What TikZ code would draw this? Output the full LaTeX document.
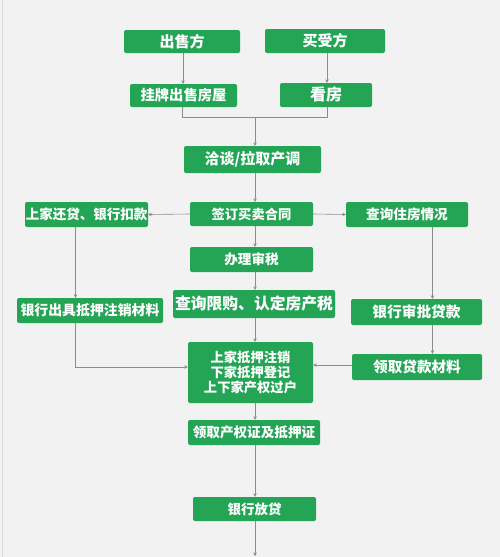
\documentclass[tikz,border=0pt]{standalone}
\usepackage{fontspec}
\newfontfamily\cjk{Noto Sans CJK SC}
\usetikzlibrary{arrows.meta}
\definecolor{boxgreen}{HTML}{24A556}
\definecolor{bg}{HTML}{F2F2F2}
\definecolor{linegray}{HTML}{8C8C8C}
\tikzset{
  box/.style={draw=none, fill=boxgreen, rounded corners=2pt, text=white,
    font=\cjk\bfseries\fontsize{13.5}{15}\selectfont, inner sep=0pt, align=center},
  fsz/.style={font=\cjk\bfseries\fontsize{#1}{15}\selectfont},
  conn/.style={draw=linegray, line width=0.6pt},
  arr/.style={conn, -{Stealth[length=3.5pt,width=3.5pt]}},
}
\begin{document}
\begin{tikzpicture}[x=1pt,y=-1pt]
\fill[bg] (0,0) rectangle (500,557);
\useasboundingbox (0,0) rectangle (500,557);
\draw[draw=black!15, line width=1pt] (2.5,0) -- (2.5,557);

\node[box, fsz=15, minimum width=116, minimum height=23] (A) at (182,41.5) {出售方};
\node[box, fsz=15, minimum width=120, minimum height=24] (B) at (325,41) {买受方};
\node[box, fsz=14.3, minimum width=107, minimum height=23] (C) at (183.5,95.5) {挂牌出售房屋};
\node[box, fsz=16, minimum width=92, minimum height=24] (D) at (326,95) {看房};
\node[box, fsz=15, minimum width=137, minimum height=27] (E) at (252.5,159.5) {洽谈/拉取产调};
\node[box, fsz=13.3, minimum width=123, minimum height=24] (F) at (251.5,214) {签订买卖合同};
\node[box, fsz=13.5, minimum width=123, minimum height=25] (G) at (86.5,214.5) {上家还贷、银行扣款};
\node[box, fsz=13.6, minimum width=122, minimum height=25] (H) at (407,214.5) {查询住房情况};
\node[box, fsz=13.6, minimum width=123, minimum height=25] (I) at (251.5,259.5) {办理审税};
\node[box, fsz=13.9, minimum width=146, minimum height=25] (J) at (90,310.5) {银行出具抵押注销材料};
\node[box, fsz=15.8, minimum width=162, minimum height=28] (K) at (254,304) {查询限购、认定房产税};
\node[box, fsz=14.7, minimum width=131, minimum height=26] (L) at (416.5,312) {银行审批贷款};
\node[box, fsz=13.3, minimum width=125, minimum height=61] (M) at (250.5,372.5) {上家抵押注销\\下家抵押登记\\上下家产权过户};
\node[box, fsz=14.6, minimum width=130, minimum height=26] (N) at (417,367) {领取贷款材料};
\node[box, fsz=13.6, minimum width=132, minimum height=25] (O) at (254,432.5) {领取产权证及抵押证};
\node[box, fsz=13.5, minimum width=123, minimum height=24] (P) at (254.5,509) {银行放贷};

\coordinate (j) at (255,117);
\coordinate (mx) at (255,0);
\coordinate (lx) at (75.5,0);
\coordinate (rx) at (432.5,0);
\coordinate (endp) at (255,556);

\draw[arr] (A.south -| 183,0) -- (C.north -| 183,0);
\draw[arr] (B.south -| 327,0) -- (D.north -| 327,0);
\draw[conn] (C.south -| 182.5,0) -- (j -| 182.5,0) -- (j -| 327,0) -- (D.south -| 327,0);
\draw[arr] (j) -- (E.north -| mx);
\draw[arr] (E.south -| mx) -- (F.north -| mx);
\draw[arr] (F.west) -- (G.east);
\draw[arr] (F.east) -- (H.west);
\draw[arr] (F.south -| mx) -- (I.north -| mx);
\draw[arr] (I.south -| mx) -- (K.north -| mx);
\draw[arr] (K.south -| mx) -- (M.north -| mx);
\draw[arr] (M.south -| mx) -- (O.north -| mx);
\draw[arr] (O.south -| mx) -- (P.north -| mx);
\draw[arr] (P.south -| mx) -- (endp);
\draw[arr] (G.south -| lx) -- (J.north -| lx);
\draw[arr] (J.south -| lx) |- (M.west |- 0,367);
\draw[arr] (H.south -| rx) -- (L.north -| rx);
\draw[arr] (L.south -| rx) -- (N.north -| rx);
\draw[arr] (N.west |- 0,365) -- (M.east |- 0,365);
\end{tikzpicture}
\end{document}
